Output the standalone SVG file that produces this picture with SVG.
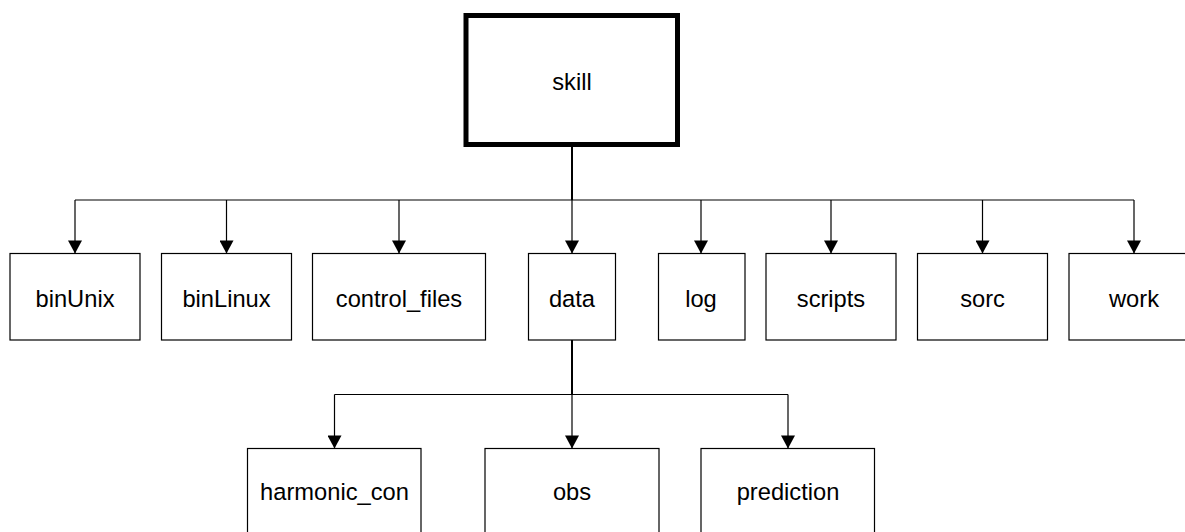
<svg xmlns="http://www.w3.org/2000/svg" width="1185" height="532" viewBox="0 0 1185 532">
  <defs>
    <style>
      .box { fill: #ffffff; stroke: #000000; stroke-width: 1.2; }
      .root { fill: #ffffff; stroke: #000000; stroke-width: 5; }
      .lbl { font-family: "Liberation Sans", Arial, sans-serif; font-size: 23.7px; fill: #000000; text-anchor: middle; }
      .ln { fill: none; stroke: #000000; stroke-width: 1.2; }
      .trunk { fill: none; stroke: #000000; stroke-width: 2; }
    </style>
    <marker id="arrow" markerUnits="userSpaceOnUse" markerWidth="14" markerHeight="14" viewBox="0 0 13 14" refX="13" refY="7" orient="auto">
      <path d="M0,0 L13,7 L0,14 Z" fill="#000000"/>
    </marker>
  </defs>
  <rect width="1185" height="532" fill="#ffffff"/>

  <g id="connectors">
    <line class="trunk" x1="572" y1="146" x2="572" y2="200"/>
    <line class="ln" x1="75" y1="200" x2="1134" y2="200"/>
    <line class="ln" x1="75" y1="200" x2="75" y2="253.5" marker-end="url(#arrow)"/>
    <line class="ln" x1="226.5" y1="200" x2="226.5" y2="253.5" marker-end="url(#arrow)"/>
    <line class="ln" x1="399" y1="200" x2="399" y2="253.5" marker-end="url(#arrow)"/>
    <line class="ln" x1="572" y1="200" x2="572" y2="253.5" marker-end="url(#arrow)"/>
    <line class="ln" x1="701" y1="200" x2="701" y2="253.5" marker-end="url(#arrow)"/>
    <line class="ln" x1="831" y1="200" x2="831" y2="253.5" marker-end="url(#arrow)"/>
    <line class="ln" x1="982.5" y1="200" x2="982.5" y2="253.5" marker-end="url(#arrow)"/>
    <line class="ln" x1="1134" y1="200" x2="1134" y2="253.5" marker-end="url(#arrow)"/>

    <line class="trunk" x1="572" y1="340" x2="572" y2="394.5"/>
    <line class="ln" x1="334.5" y1="394.5" x2="788" y2="394.5"/>
    <line class="ln" x1="334.5" y1="394.5" x2="334.5" y2="448.5" marker-end="url(#arrow)"/>
    <line class="ln" x1="572" y1="394.5" x2="572" y2="448.5" marker-end="url(#arrow)"/>
    <line class="ln" x1="788" y1="394.5" x2="788" y2="448.5" marker-end="url(#arrow)"/>
  </g>

  <g id="skill">
    <rect class="root" x="466" y="15.5" width="211.5" height="129"/>
    <text class="lbl" x="572" y="90">skill</text>
  </g>

  <g id="binUnix">
    <rect class="box" x="10" y="253.5" width="130" height="86.5"/>
    <text class="lbl" x="75" y="307">binUnix</text>
  </g>
  <g id="binLinux">
    <rect class="box" x="161.5" y="253.5" width="130" height="86.5"/>
    <text class="lbl" x="226.5" y="307">binLinux</text>
  </g>
  <g id="control_files">
    <rect class="box" x="312.5" y="253.5" width="173" height="86.5"/>
    <text class="lbl" x="399" y="307">control_files</text>
  </g>
  <g id="data">
    <rect class="box" x="528.5" y="253.5" width="87" height="86.5"/>
    <text class="lbl" x="572" y="307">data</text>
  </g>
  <g id="log">
    <rect class="box" x="658.5" y="253.5" width="86.5" height="86.5"/>
    <text class="lbl" x="701" y="307">log</text>
  </g>
  <g id="scripts">
    <rect class="box" x="766" y="253.5" width="130" height="86.5"/>
    <text class="lbl" x="831" y="307">scripts</text>
  </g>
  <g id="sorc">
    <rect class="box" x="917.5" y="253.5" width="130" height="86.5"/>
    <text class="lbl" x="982.5" y="307">sorc</text>
  </g>
  <g id="work">
    <rect class="box" x="1069" y="253.5" width="130" height="86.5"/>
    <text class="lbl" x="1134" y="307">work</text>
  </g>

  <g id="harmonic_con">
    <rect class="box" x="247.5" y="448.5" width="173.5" height="100"/>
    <text class="lbl" x="334.5" y="500">harmonic_con</text>
  </g>
  <g id="obs">
    <rect class="box" x="485" y="448.5" width="174" height="100"/>
    <text class="lbl" x="572" y="500">obs</text>
  </g>
  <g id="prediction">
    <rect class="box" x="701" y="448.5" width="173.5" height="100"/>
    <text class="lbl" x="788" y="500">prediction</text>
  </g>
</svg>
